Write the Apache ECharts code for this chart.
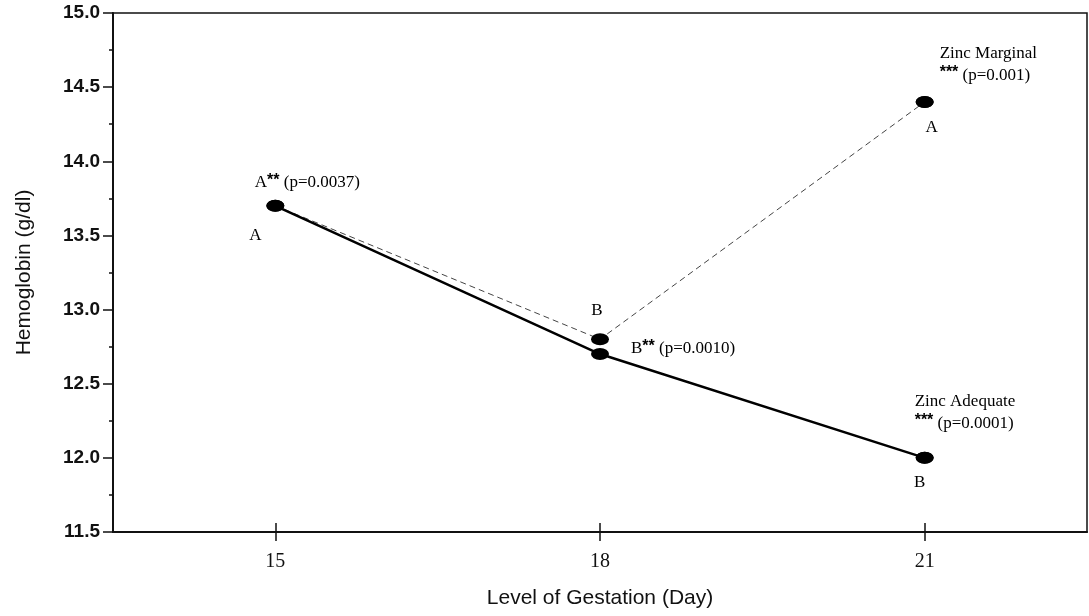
<!DOCTYPE html>
<html>
<head>
<meta charset="utf-8">
<script src="https://cdn.jsdelivr.net/npm/echarts@6/dist/echarts.min.js"></script>
<style>
  html, body { margin: 0; padding: 0; background: #fff; }
  #chart { width: 1089px; height: 616px; }
</style>
</head>
<body>
<div id="chart"></div>
<script>
// gestation days and hemoglobin values (g/dl)
const days = [15, 18, 21]
const zincAdequate = [13.7, 12.7, 12.0]
const zincMarginal = [13.7, 12.8, 14.4]
const yTicks = [11.5, 12.0, 12.5, 13.0, 13.5, 14.0, 14.5, 15.0]

const serif = '"Liberation Serif", "Times New Roman", serif'
const sans = '"Liberation Sans", Arial, sans-serif'

const rich = {
    s: { fontFamily: sans, fontWeight: 'bold', fontSize: 16, color: '#000', verticalAlign: 'top', padding: [0, 0, 3, 0] }
}
const noteStyle = { fontFamily: serif, fontSize: 17, color: '#000', rich: rich }

const chart = echarts.init(document.getElementById('chart'))

function pts(vals) {
    return days.map((d, i) => [d, vals[i]])
}

// labels attached to points (one per point per series)
const adequatePts = pts(zincAdequate)
const marginalPts = pts(zincMarginal)

const adequateData = [
    { value: adequatePts[0], label: { show: true, position: 'bottom', formatter: 'A', offset: [-20, 10] } },
    { value: adequatePts[1], label: { show: true, position: 'right', distance: 22, formatter: 'B{s|**} (p=0.0010)', offset: [0, -6] } },
    { value: adequatePts[2], label: { show: true, position: 'top', align: 'left', lineHeight: 22, formatter: 'Zinc Adequate\n{s|***} (p=0.0001)', offset: [-10, -12] } }
]
const marginalData = [
    { value: marginalPts[0], label: { show: true, position: 'top', formatter: 'A{s|**} (p=0.0037)', offset: [32, -3] } },
    { value: marginalPts[1], label: { show: true, position: 'top', formatter: 'B', offset: [-3, -9] } },
    { value: marginalPts[2], label: { show: true, position: 'top', align: 'left', lineHeight: 22, formatter: 'Zinc Marginal\n{s|***} (p=0.001)', offset: [15, -4] } }
]
// extra letter labels on day 21 points
const extraData = [
    { value: marginalPts[2], label: { show: true, position: 'bottom', formatter: 'A', offset: [7, 6] } },
    { value: adequatePts[2], label: { show: true, position: 'bottom', formatter: 'B', offset: [-5, 5] } }
]

chart.setOption({
    animation: false,
    grid: {
        left: 113, right: 2, top: 13, bottom: 84,
        show: true,
        borderColor: '#111',
        borderWidth: 1.5
    },
    xAxis: [
        {
            type: 'value',
            min: 13.5,
            max: 22.5,
            name: 'Level of Gestation (Day)',
            nameLocation: 'middle',
            nameGap: 56,
            nameTextStyle: { fontFamily: sans, fontSize: 21, color: '#111' },
            axisLine: { lineStyle: { color: '#111', width: 2 } },
            axisTick: { show: true, length: 9, customValues: days, lineStyle: { color: '#111', width: 1.5 } },
            axisLabel: { customValues: days, margin: 20, fontFamily: serif, fontSize: 20, color: '#111' },
            splitLine: { show: false }
        },
        {
            // inner half of the crossing ticks
            type: 'value',
            min: 13.5,
            max: 22.5,
            position: 'bottom',
            axisLine: { show: false },
            axisTick: { show: true, inside: true, length: 9, customValues: days, lineStyle: { color: '#111', width: 1.5 } },
            axisLabel: { show: false },
            splitLine: { show: false }
        }
    ],
    yAxis: {
        type: 'value',
        min: yTicks[0],
        max: yTicks[yTicks.length - 1],
        interval: 0.5,
        name: 'Hemoglobin (g/dl)',
        nameLocation: 'middle',
        nameGap: 78,
        nameRotate: 90,
        nameTextStyle: { fontFamily: sans, fontSize: 21, color: '#111' },
        axisLine: { show: true, lineStyle: { color: '#111', width: 2 } },
        axisTick: { show: true, length: 10, lineStyle: { color: '#111', width: 1.5 } },
        minorTick: { show: true, splitNumber: 2, length: 4, lineStyle: { color: '#111', width: 1.5 } },
        axisLabel: {
            margin: 13,
            fontFamily: sans,
            fontSize: 19,
            fontWeight: 'bold',
            color: '#111',
            formatter: v => v.toFixed(1)
        },
        splitLine: { show: false }
    },
    series: [
        {
            name: 'Zinc Marginal',
            type: 'line',
            data: marginalData,
            symbol: 'circle',
            symbolSize: [18, 12],
            itemStyle: { color: '#000' },
            lineStyle: { color: '#444', width: 1, type: [6, 4] },
            label: noteStyle,
            z: 2
        },
        {
            name: 'Zinc Adequate',
            type: 'line',
            data: adequateData,
            symbol: 'circle',
            symbolSize: [18, 12],
            itemStyle: { color: '#000' },
            lineStyle: { color: '#000', width: 2.5 },
            label: noteStyle,
            z: 3
        },
        {
            name: 'notes',
            type: 'scatter',
            data: extraData,
            symbol: 'circle',
            symbolSize: [18, 12],
            itemStyle: { color: '#000', opacity: 1 },
            label: Object.assign({ opacity: 1 }, noteStyle),
            silent: true,
            z: 4
        }
    ]
})

window.addEventListener('resize', () => {
    chart.resize()
})
</script>
</body>
</html>
